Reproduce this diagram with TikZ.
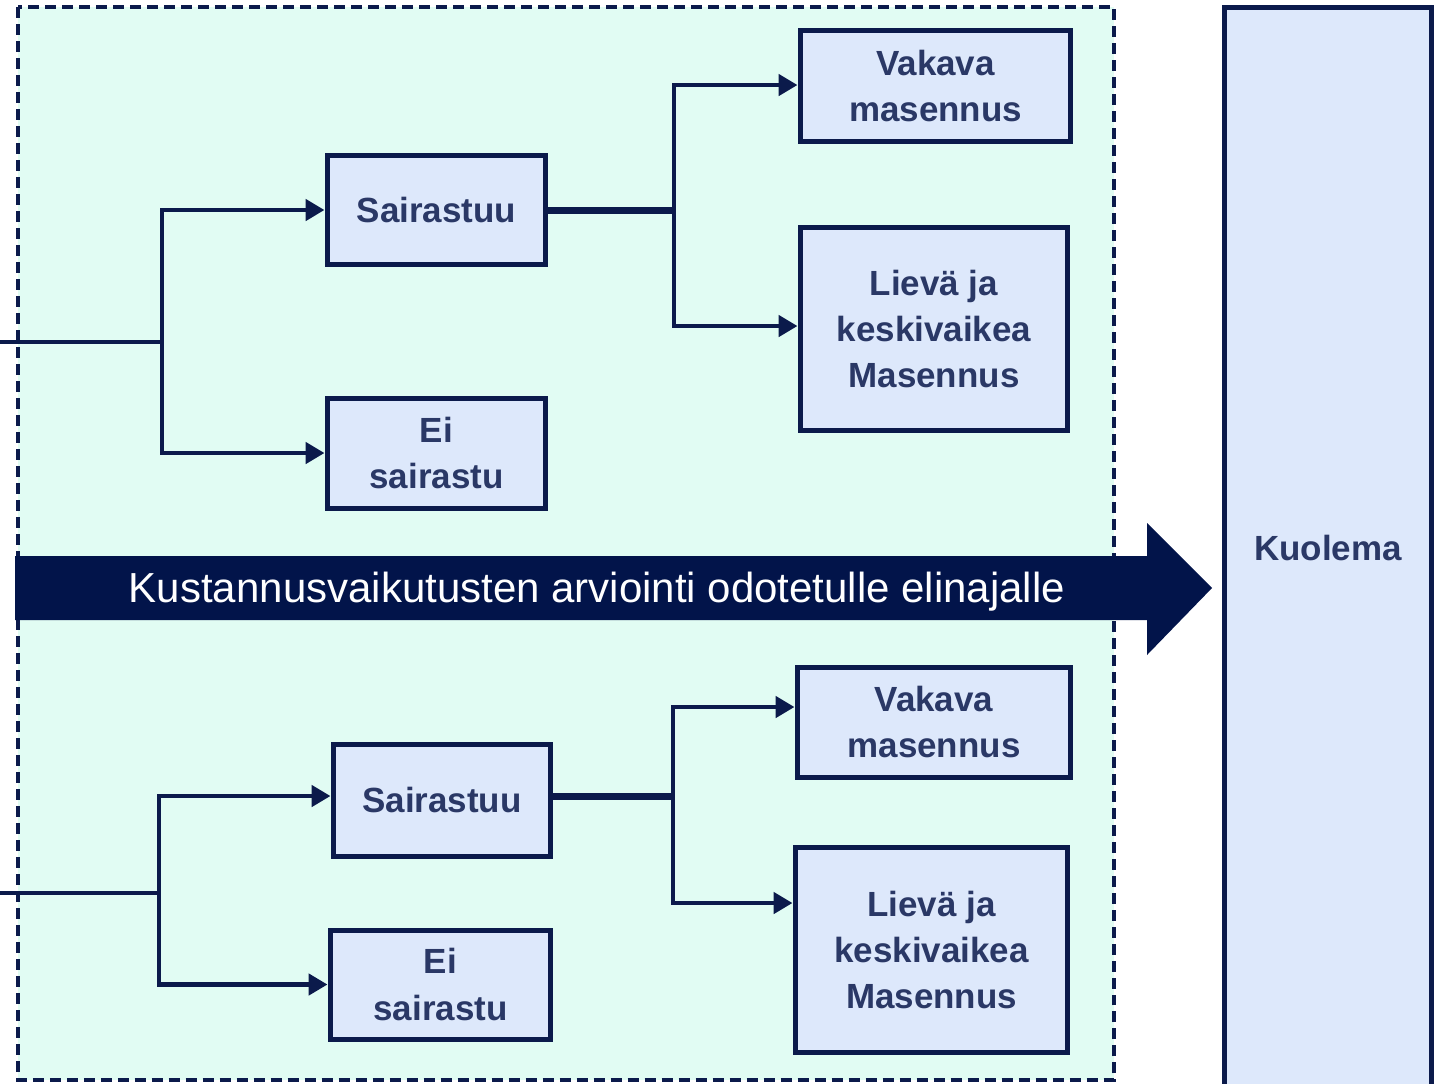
\documentclass[tikz,border=0pt]{standalone}
\usepackage{fontspec}
\setmainfont{Liberation Sans}
\usetikzlibrary{arrows.meta,calc}
\definecolor{navy}{HTML}{0B1A4B}
\definecolor{arrownavy}{HTML}{02144A}
\definecolor{mint}{HTML}{E1FCF3}
\definecolor{boxfill}{HTML}{DDE8FB}
\definecolor{txt}{HTML}{2A3866}
\begin{document}
\begin{tikzpicture}[x=0.02cm,y=-0.02cm,
  box/.style={draw=navy, line width=0.1cm, fill=boxfill, text=txt,
    font=\bfseries\fontsize{19.9}{26.2}\selectfont, align=center, inner sep=0pt},
  conn/.style={draw=navy, line width=0.095cm},
  thickconn/.style={draw=navy, line width=0.14cm},
  arr/.style={conn, -{Triangle[length=0.38cm,width=0.42cm]}},
]
\useasboundingbox (0,0) rectangle (1447,1083);
\fill[white] (0,0) rectangle (1447,1083);
% region
\draw[navy, fill=mint, line width=0.075cm, dash pattern=on 0.22cm off 0.12cm] (18,7) rectangle (1114,1080);
% right box
\node[box, minimum width=4.16cm, minimum height=21.9cm, anchor=north] (kuol) at (1328,5) {};
\node[text=txt, font=\bfseries\fontsize{19.9}{26.2}\selectfont] (kuoltxt) at (1328,548) {Kuolema};
% big arrow
\fill[arrownavy] (15,556) -- (1147,556) -- (1147,523) -- (1212,588) -- (1147,655) -- (1147,620) -- (15,620) -- cycle;
\node[text=white, font=\fontsize{23.9}{28}\selectfont] (arrtxt) at (597,592) {Kustannusvaikutusten arviointi odotetulle elinajalle};
% upper tree
\node[box, minimum width=4.38cm, minimum height=2.2cm] (s1) at (436.5,210) {Sairastuu};
\node[box, minimum width=4.38cm, minimum height=2.2cm] (e1) at (436.5,453) {Ei\\sairastu};
\node[box, minimum width=5.42cm, minimum height=2.24cm] (v1) at (935.5,86) {Vakava\\masennus};
\node[box, minimum width=5.36cm, minimum height=4.08cm] (l1) at (934,329) {Lievä ja\\keskivaikea\\Masennus};
% lower tree
\node[box, minimum width=4.36cm, minimum height=2.24cm] (s2) at (442,800) {Sairastuu};
\node[box, minimum width=4.42cm, minimum height=2.18cm] (e2) at (440.5,984.5) {Ei\\sairastu};
\node[box, minimum width=5.48cm, minimum height=2.2cm] (v2) at (934,722) {Vakava\\masennus};
\node[box, minimum width=5.46cm, minimum height=4.12cm] (l2) at (931.5,950) {Lievä ja\\keskivaikea\\Masennus};
% connectors upper
\coordinate (in1) at (0,342);
\coordinate (j1) at (162,342);
\coordinate (j2) at (674,212);
\draw[conn] (in1) -- (j1);
\draw[arr] (j1) |- (s1.west);
\draw[arr] (j1) |- (e1.west);
\draw[thickconn] (s1.east) -- (s1.east -| j2);
\draw[arr] (j2) |- ($(v1.west)+(0,-1)$);
\draw[arr] (j2) |- ($(l1.west)+(0,-3)$);
% connectors lower
\coordinate (in2) at (0,893);
\coordinate (j3) at (159,893);
\coordinate (j4) at (673,796);
\draw[conn] (in2) -- (j3);
\draw[arr] (j3) |- ($(s2.west)+(0,-4)$);
\draw[arr] (j3) |- (e2.west);
\draw[thickconn] ($(s2.east)+(0,-4)$) -- ($(s2.east -| j4)+(0,-4)$);
\draw[arr] (j4) |- ($(v2.west)+(0,-15)$);
\draw[arr] (j4) |- ($(l2.west)+(0,-47)$);
\end{tikzpicture}
\end{document}
